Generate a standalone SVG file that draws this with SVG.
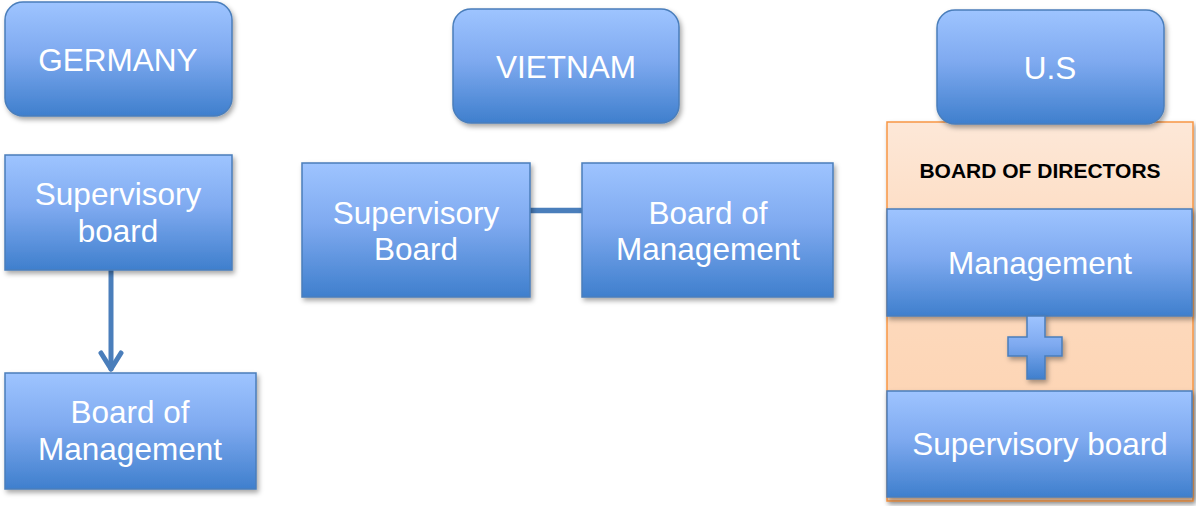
<svg xmlns="http://www.w3.org/2000/svg" width="1196" height="506" viewBox="0 0 1196 506">
<defs>
<linearGradient id="blue" x1="0" y1="0" x2="0" y2="1">
<stop offset="0" stop-color="#9ec4ff"/>
<stop offset="0.45" stop-color="#7faaf0"/>
<stop offset="1" stop-color="#3f7fcd"/>
</linearGradient>
<linearGradient id="peach" x1="0" y1="0" x2="0" y2="1">
<stop offset="0" stop-color="#fde8d8"/>
<stop offset="0.3" stop-color="#fddcc2"/>
<stop offset="1" stop-color="#fdd1ad"/>
</linearGradient>
<filter id="sh" x="-10%" y="-10%" width="125%" height="130%">
<feDropShadow dx="2" dy="3" stdDeviation="2.5" flood-color="#000" flood-opacity="0.35"/>
</filter>
<style>
.box{fill:url(#blue);stroke:#4a7ebb;stroke-width:1.5;filter:url(#sh)}
.t{font-family:"Liberation Sans",Arial,sans-serif;font-size:31.5px;fill:#fff;text-anchor:middle}
.b{font-family:"Liberation Sans",Arial,sans-serif;font-size:21px;font-weight:bold;fill:#000;text-anchor:middle}
.con{stroke:#4a7ebb;stroke-width:5;fill:none;stroke-linecap:round;stroke-linejoin:round}
</style>
</defs>
<g id="us-board">
<rect x="887" y="122" width="306" height="379" fill="url(#peach)" stroke="#f79646" stroke-width="1.5" filter="url(#sh)"/>
<text class="b" x="1040" y="178">BOARD OF DIRECTORS</text>
</g>
<g id="germany"><rect class="box" x="5" y="2" width="227" height="114" rx="18"/><text class="t" x="118" y="71">GERMANY</text></g>
<g id="vietnam"><rect class="box" x="453" y="9" width="226" height="114" rx="18"/><text class="t" x="566" y="78">VIETNAM</text></g>
<g id="us"><rect class="box" x="937" y="10" width="227" height="114" rx="18"/><text class="t" x="1050" y="79">U.S</text></g>
<g id="connectors">
<line class="con" x1="111" y1="270" x2="111" y2="369"/>
<polyline class="con" points="101,353 111,369 121,353"/>
<line x1="530" y1="210.5" x2="582" y2="210.5" stroke="#4a7ebb" stroke-width="5.5"/>
</g>
<g id="de-supervisory"><rect class="box" x="5" y="155" width="227" height="115"/><text class="t" x="118" y="205">Supervisory</text><text class="t" x="118" y="242">board</text></g>
<g id="de-management"><rect class="box" x="5" y="373" width="251" height="116"/><text class="t" x="130" y="423">Board of</text><text class="t" x="130" y="460">Management</text></g>
<g id="vn-supervisory"><rect class="box" x="302" y="163" width="228" height="134"/><text class="t" x="416" y="224">Supervisory</text><text class="t" x="416" y="260">Board</text></g>
<g id="vn-management"><rect class="box" x="582" y="163" width="251" height="134"/><text class="t" x="708" y="224">Board of</text><text class="t" x="708" y="260">Management</text></g>
<g id="us-management"><rect class="box" x="887" y="209" width="305" height="107"/><text class="t" x="1040" y="274">Management</text></g>
<g id="plus"><path class="box" d="M1027,316 H1045 V337 H1062 V356 H1045 V379 H1027 V356 H1008 V337 H1027 Z"/></g>
<g id="us-supervisory"><rect class="box" x="887" y="391" width="305" height="106"/><text class="t" x="1040" y="455">Supervisory board</text></g>
</svg>
